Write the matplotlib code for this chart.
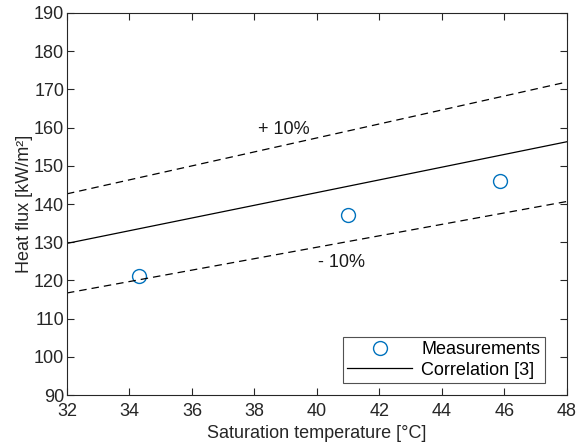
import numpy as np
import matplotlib.pyplot as plt

plt.rcParams['font.family'] = ['Liberation Sans', 'DejaVu Sans']

# measurements
t_meas = [34.3, 41.0, 45.86]
q_meas = [121.2, 137.1, 146.1]

# correlation [3]
t_corr = [32, 40, 48]
q_corr = [129.7, 143.0, 156.3]

band = 0.10

fig, ax = plt.subplots(figsize=(5.82, 4.46), dpi=100)
fig.subplots_adjust(left=0.115, right=0.974, top=0.971, bottom=0.114)

q_corr = np.array(q_corr)
ax.plot(t_meas, q_meas, 'o', mfc='none', mec='#0072BD', ms=10, mew=1.0, label='Measurements')
ax.plot(t_corr, q_corr, '-', color='black', lw=0.9, label='Correlation [3]')
ax.plot(t_corr, q_corr * (1 + band), '--', color='black', lw=0.9, dashes=(6, 4))
ax.plot(t_corr, q_corr * (1 - band), '--', color='black', lw=0.9, dashes=(6, 4))

ax.text(38.1, 159.5, '+ 10%', fontsize=13, color='#1a1a1a', va='center')
ax.text(40.05, 124.6, '- 10%', fontsize=13, color='#1a1a1a', va='center')

ax.set_xlim(32, 48)
ax.set_ylim(90, 190)
ax.set_xticks(np.arange(32, 49, 2))
ax.set_yticks(np.arange(90, 191, 10))
ax.tick_params(direction='in', top=True, right=True, labelsize=13, colors='#262626', length=5)
ax.tick_params(axis='x', pad=6)
ax.tick_params(axis='y', pad=2)
for s in ax.spines.values():
    s.set_color('#262626')
    s.set_linewidth(0.8)

ax.set_xlabel('Saturation temperature [°C]', fontsize=13, color='#262626', labelpad=3)
ax.set_ylabel('Heat flux [kW/m²]', fontsize=13, color='#262626', labelpad=1)

leg = ax.legend(loc='lower right', bbox_to_anchor=(0.956, 0.031), fontsize=13, frameon=True,
                fancybox=False, edgecolor='#262626', borderaxespad=0, handlelength=3.6,
                borderpad=0.25, labelspacing=0.2, handletextpad=0.5)
leg.get_frame().set_linewidth(0.8)

fig.savefig('out.png', dpi=100)
